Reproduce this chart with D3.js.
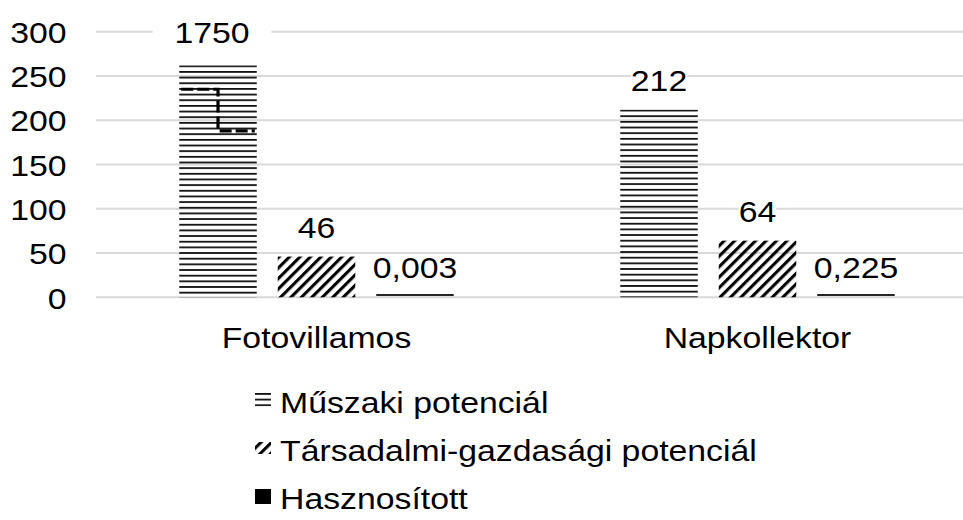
<!DOCTYPE html>
<html>
<head>
<meta charset="utf-8">
<script src="https://cdn.jsdelivr.net/npm/d3@7"></script>
<style>
  html, body { margin: 0; padding: 0; background: #fff; }
  svg { display: block; }
  text { font-family: "Liberation Sans", Arial, sans-serif; fill: #000; }
</style>
</head>
<body>
<svg id="chart" width="963" height="520"></svg>
<script>
// ---- data ----
const categories = ["Fotovillamos", "Napkollektor"];
const seriesNames = ["Műszaki potenciál", "Társadalmi-gazdasági potenciál", "Hasznosított"];
const muszaki = [1750, 212];
const tarsadalmi = [46, 64];
const hasznositott = [0.003, 0.225];
const yTicks = [0, 50, 100, 150, 200, 250, 300];
const axisMax = 300;
const brokenBarTop = 262;        // displayed height of the off-scale bar
const breakLevels = [235, 188];  // where the break mark is drawn on the off-scale bar

const seriesValues = [muszaki, tarsadalmi, hasznositott];

// ---- layout ----
const svg = d3.select("#chart");
const FS = 29.5, SX = 1.145;
const fmt = v => String(v).replace(".", ",");

const y = d3.scaleLinear().domain([0, axisMax]).range([297.3, 31.7]);
const x0 = d3.scaleBand().domain(categories).range([96, 978])
  .paddingInner(0.3776).paddingOuter(0.1888);
const x1 = d3.scaleBand().domain(seriesNames).range([0, x0.bandwidth()])
  .paddingInner(0.213).paddingOuter(0);

const defs = svg.append("defs");
function hPattern(id, top) {
  const p = defs.append("pattern").attr("id", id).attr("patternUnits", "userSpaceOnUse")
    .attr("x", 0).attr("y", top).attr("width", 8).attr("height", 5.66);
  p.append("rect").attr("x", 0).attr("y", 0).attr("width", 8).attr("height", 1.8).attr("fill", "#111");
}
const hatch = defs.append("pattern").attr("id", "hatch").attr("patternUnits", "userSpaceOnUse")
  .attr("width", 7.4).attr("height", 10).attr("patternTransform", "rotate(45)");
hatch.append("rect").attr("x", 0).attr("y", 0).attr("width", 3.1).attr("height", 10).attr("fill", "#000");

function txt(parent, x, yy, s, anchor) {
  const g = parent.append("g").attr("transform", `translate(${x},${yy}) scale(${SX},1)`);
  const t = g.append("text").attr("x", 0).attr("y", 0).attr("font-size", FS)
    .attr("text-anchor", anchor || "start").text(s);
  return { g, t };
}

// gridlines
svg.append("g").selectAll("line").data(yTicks).join("line")
  .attr("x1", 96).attr("x2", 978)
  .attr("y1", d => y(d)).attr("y2", d => y(d))
  .attr("stroke", "#d9d9d9").attr("stroke-width", 2);

// y tick labels
yTicks.forEach(t => txt(svg, 66.5, y(t) + 11.2, String(t), "end"));

// bars
const barsG = svg.append("g");
const labelsG = svg.append("g");
categories.forEach((c, ci) => {
  seriesNames.forEach((s, si) => {
    const v = seriesValues[si][ci];
    const clipped = v > axisMax;
    const dv = clipped ? brokenBarTop : v;
    const bx = x0(c) + x1(s), bw = x1.bandwidth();
    let top = y(dv), h = y(0) - y(dv);
    let fill;
    if (si === 0) { const id = `hz-${ci}`; hPattern(id, top); fill = `url(#${id})`; }
    else if (si === 1) fill = "url(#hatch)";
    else fill = "#262626";
    if (si === 2) { h = 2; top = y(0) - 3.3; }
    barsG.append("rect").attr("x", bx).attr("y", top).attr("width", bw).attr("height", h).attr("fill", fill);

    if (clipped) {
      const cx = bx + bw / 2;
      barsG.append("path")
        .attr("d", `M${bx + 2},${y(breakLevels[0])}H${cx}V${y(breakLevels[1])}H${bx + bw - 2}`)
        .attr("fill", "none").attr("stroke", "#000").attr("stroke-width", 3.2)
        .attr("stroke-dasharray", "12,4");
    }
    // label
    const lx = bx + bw / 2 + (clipped ? -6 : 0);
    const ly = clipped ? y(axisMax) + 11.5 : y(dv) - 19;
    const { g, t } = txt(labelsG, lx, ly, fmt(v), "middle");
    const bb = t.node().getBBox();
    const pad = clipped ? 19 : 0;
    g.insert("rect", "text").attr("x", bb.x - pad).attr("y", -22.5)
      .attr("width", bb.width + 2 * pad).attr("height", 25).attr("fill", "#fff");
  });
});

// category labels
categories.forEach(c => txt(svg, x0(c) + x0.bandwidth() / 2, 348, c, "middle"));

// legend
const legendBase = [413, 461, 509];
seriesNames.forEach((s, i) => {
  const by = legendBase[i] - 20;
  let fill;
  if (i === 0) { hPattern("hz-leg", by); fill = "url(#hz-leg)"; }
  else if (i === 1) fill = "url(#hatch)";
  else fill = "#000";
  const mh = i === 0 ? 13.5 : (i === 1 ? 12 : 15);
  const my = i === 2 ? by + 0 : by + (i === 1 ? 1 : 0);
  svg.append("rect").attr("x", 255).attr("y", my).attr("width", 16).attr("height", mh).attr("fill", fill);
  txt(svg, 280, legendBase[i], s, "start");
});
</script>
</body>
</html>
